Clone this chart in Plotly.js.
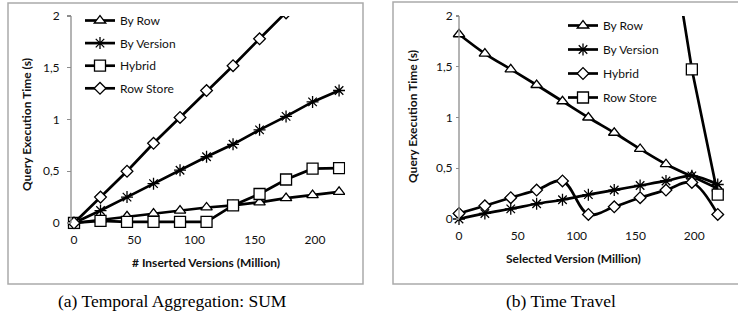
<!DOCTYPE html>
<html>
<head>
<meta charset="utf-8">
<script src="https://cdn.plot.ly/plotly-3.0.1.min.js"></script>
<style>html,body{margin:0;padding:0;background:#fff;}#chart{width:738px;height:324px;}</style>
</head>
<body>
<div id="chart"></div>
<script>
// ---- data ----
const versions = [0, 22, 44, 66, 88, 110, 132, 154, 176, 198, 220];
const seriesNames = ["By Row", "By Version", "Hybrid", "Row Store"];

// (a) Temporal Aggregation: SUM
const aggByRow     = [0, 0.03, 0.065, 0.09, 0.12, 0.15, 0.17, 0.20, 0.24, 0.27, 0.30];
const aggByVersion = [0, 0.12, 0.25, 0.38, 0.51, 0.64, 0.76, 0.90, 1.03, 1.17, 1.28];
const aggHybrid    = [0, 0.02, 0.01, 0.01, 0.01, 0.01, 0.17, 0.28, 0.42, 0.525, 0.53];
const aggRowStore  = [0, 0.25, 0.50, 0.77, 1.02, 1.28, 1.52, 1.78, 2.03, 2.29, 2.55];

// (b) Time Travel
const ttByRow      = [1.82, 1.63, 1.475, 1.32, 1.16, 1.0, 0.85, 0.69, 0.54, 0.42, 0.30];
const ttByVersion  = [0, 0.055, 0.10, 0.15, 0.19, 0.24, 0.285, 0.33, 0.375, 0.425, 0.34];
const ttHybrid     = [0.055, 0.13, 0.21, 0.285, 0.375, 0.045, 0.12, 0.21, 0.285, 0.36, 0.045];
const ttRowStore   = [3.12, 3.11, 3.11, 3.10, 3.10, 3.09, 3.08, 3.08, 3.06, 1.475, 0.24];

const yTickVals = [0, 0.5, 1, 1.5, 2];
const yTickText = ["0", "0,5", "1", "1,5", "2"];
const xTickVals = [0, 50, 100, 150, 200];

const xTitleA = "# Inserted Versions (Million)";
const xTitleB = "Selected Version (Million)";
const yTitle = "Query Execution Time (s)";
const captionA = "(a) Temporal Aggregation: SUM";
const captionB = "(b) Time Travel";

// ---- styling helpers ----
const W = 738, H = 324;
const px = v => v / W;
const py = v => 1 - v / H;
const sans = "Lato, 'Open Sans', sans-serif";

function mk(symbol, size) {
  if (symbol === 'asterisk-open') {
    return {symbol: symbol, size: size, color: '#000', line: {color: '#000', width: 1.3}};
  }
  return {symbol: symbol, size: size, color: '#fff', line: {color: '#000', width: 1.3}};
}
function tr(y, name, symbol, size, xa, ya, legend, shape) {
  return {
    x: versions, y: y, name: name, type: 'scatter', mode: 'lines+markers',
    xaxis: xa, yaxis: ya, legend: legend, legendgroup: legend + name,
    line: {color: '#000', width: 2.7, shape: shape || 'linear', smoothing: 1},
    marker: mk(symbol, size)
  };
}

const data = [
  tr(aggByRow,     seriesNames[0], 'triangle-up',   10, 'x',  'y',  'legend'),
  tr(aggByVersion, seriesNames[1], 'asterisk-open', 10, 'x',  'y',  'legend'),
  tr(aggHybrid,    seriesNames[2], 'square',        11, 'x',  'y',  'legend'),
  tr(aggRowStore,  seriesNames[3], 'diamond',        9, 'x',  'y',  'legend'),
  tr(ttByRow,      seriesNames[0], 'triangle-up',   10, 'x2', 'y2', 'legend2', 'spline'),
  tr(ttByVersion,  seriesNames[1], 'asterisk-open', 10, 'x2', 'y2', 'legend2', 'spline'),
  tr(ttHybrid,     seriesNames[2], 'diamond',        9, 'x2', 'y2', 'legend2', 'spline'),
  tr(ttRowStore,   seriesNames[3], 'square',        11, 'x2', 'y2', 'legend2', 'linear')
];

const tickFont = {family: sans, size: 12, color: '#111'};
function xa(domain, range, anchor) {
  return {domain: domain, range: range, anchor: anchor, tickvals: xTickVals,
    showgrid: false, zeroline: false, showline: false, ticks: '',
    tickfont: tickFont, ticklabelstandoff: 2, fixedrange: true};
}
function ya(domain, pos, ticklen, standoff) {
  return {domain: domain, range: [-0.06, 2], anchor: 'free', position: pos,
    tickvals: yTickVals, ticktext: yTickText, showgrid: false, zeroline: false,
    showline: false, ticks: 'outside', ticklen: ticklen, tickwidth: 1.2, tickcolor: '#8c8c8c',
    tickfont: tickFont, ticklabelstandoff: standoff, fixedrange: true};
}

const legendBase = {bgcolor: 'rgba(0,0,0,0)', borderwidth: 0, font: {family: sans, size: 12, color: '#111'},
  traceorder: 'grouped', xanchor: 'left', yanchor: 'top', itemclick: false};

const titleFont = {family: sans, size: 12, color: '#111', weight: 'bold'};
const capFont = {family: "'Liberation Serif', 'Times New Roman', serif", size: 17.5, color: '#000'};

const layout = {
  width: W, height: H,
  margin: {l: 0, r: 0, t: 0, b: 0},
  paper_bgcolor: '#fff', plot_bgcolor: 'rgba(0,0,0,0)',
  xaxis:  xa([px(64.36), px(345.1)], [-8, 225], 'y'),
  yaxis:  ya([py(229.2), py(16)], px(71), 4, 5),
  xaxis2: xa([px(451.94), px(729.5)], [-6, 230], 'y2'),
  yaxis2: ya([py(225.1), py(16)], px(459), 3, 1),
  legend:  Object.assign({}, legendBase, {x: px(80), y: py(6), tracegroupgap: 3.6}),
  legend2: Object.assign({}, legendBase, {x: px(563), y: py(11), tracegroupgap: 5}),
  shapes: [
    {type: 'rect', xref: 'paper', yref: 'paper', x0: px(8), x1: px(363), y0: py(284), y1: py(3),
     line: {color: '#ababab', width: 1.5}, fillcolor: 'rgba(0,0,0,0)', layer: 'below'},
    {type: 'rect', xref: 'paper', yref: 'paper', x0: px(393), x1: px(745), y0: py(284), y1: py(2),
     line: {color: '#ababab', width: 1.5}, fillcolor: 'rgba(0,0,0,0)', layer: 'below'},
    {type: 'line', xref: 'paper', yref: 'y', x0: px(71), x1: px(71), y0: 0, y1: 2,
     line: {color: '#8c8c8c', width: 1.3}},
    {type: 'line', xref: 'paper', yref: 'y2', x0: px(459), x1: px(459), y0: 0, y1: 2,
     line: {color: '#8c8c8c', width: 1.3}}
  ],
  annotations: [
    {text: yTitle, xref: 'paper', yref: 'paper', x: px(27), y: py(125), textangle: -90,
     showarrow: false, font: titleFont, xanchor: 'center', yanchor: 'middle'},
    {text: xTitleA, xref: 'paper', yref: 'paper', x: px(206), y: py(262),
     showarrow: false, font: titleFont, xanchor: 'center', yanchor: 'middle'},
    {text: yTitle, xref: 'paper', yref: 'paper', x: px(412), y: py(117), textangle: -90,
     showarrow: false, font: titleFont, xanchor: 'center', yanchor: 'middle'},
    {text: xTitleB, xref: 'paper', yref: 'paper', x: px(573), y: py(258),
     showarrow: false, font: titleFont, xanchor: 'center', yanchor: 'middle'},
    {text: captionA, xref: 'paper', yref: 'paper', x: px(172), y: py(301),
     showarrow: false, font: capFont, xanchor: 'center', yanchor: 'middle'},
    {text: captionB, xref: 'paper', yref: 'paper', x: px(561), y: py(301),
     showarrow: false, font: capFont, xanchor: 'center', yanchor: 'middle'}
  ]
};

Plotly.newPlot('chart', data, layout, {displayModeBar: false, staticPlot: true});
</script>
</body>
</html>
